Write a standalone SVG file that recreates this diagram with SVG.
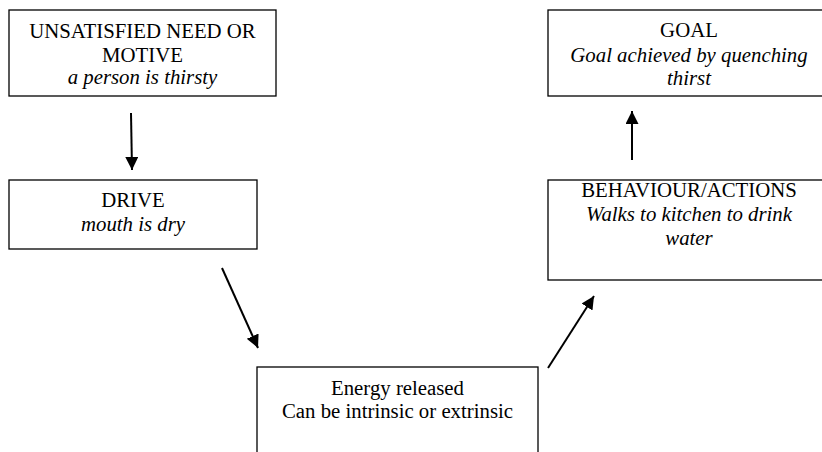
<svg xmlns="http://www.w3.org/2000/svg" width="822" height="452" viewBox="0 0 822 452">
  <style>
    .box { fill: #ffffff; stroke: #000000; stroke-width: 1.3; }
    .t { font-family: "Liberation Serif", "Times New Roman", serif; font-size: 20.8px; fill: #000000; text-anchor: middle; }
    .i { font-style: italic; }
    .arrow { stroke: #000000; stroke-width: 2; fill: none; marker-end: url(#head); }
  </style>
  <defs>
    <marker id="head" markerUnits="userSpaceOnUse" markerWidth="14" markerHeight="14" refX="13" refY="6.5" orient="auto">
      <path d="M0,0 L13,6.5 L0,13 Z" fill="#000000"/>
    </marker>
  </defs>
  <rect width="822" height="452" fill="#ffffff"/>

  <g id="need">
    <rect class="box" x="9" y="10" width="267" height="86"/>
    <text class="t" x="142.5" y="38">UNSATISFIED NEED OR</text>
    <text class="t" x="142.5" y="62">MOTIVE</text>
    <text class="t i" x="142.5" y="84">a person is thirsty</text>
  </g>

  <g id="drive">
    <rect class="box" x="9" y="180" width="248" height="69"/>
    <text class="t" x="133" y="207">DRIVE</text>
    <text class="t i" x="133" y="231">mouth is dry</text>
  </g>

  <g id="energy">
    <rect class="box" x="257" y="367" width="281" height="100"/>
    <text class="t" x="397.5" y="395">Energy released</text>
    <text class="t" x="397.5" y="418">Can be intrinsic or extrinsic</text>
  </g>

  <g id="behaviour">
    <rect class="box" x="548" y="180" width="282" height="100"/>
    <text class="t" x="689" y="197">BEHAVIOUR/ACTIONS</text>
    <text class="t i" x="689" y="221">Walks to kitchen to drink</text>
    <text class="t i" x="689" y="245">water</text>
  </g>

  <g id="goal">
    <rect class="box" x="548" y="10" width="282" height="86"/>
    <text class="t" x="689" y="37">GOAL</text>
    <text class="t i" x="689" y="62">Goal achieved by quenching</text>
    <text class="t i" x="689" y="85">thirst</text>
  </g>

  <g id="connectors">
    <line class="arrow" x1="131" y1="113" x2="132" y2="170"/>
    <line class="arrow" x1="222" y1="268" x2="258" y2="348"/>
    <line class="arrow" x1="548" y1="368" x2="594" y2="296"/>
    <line class="arrow" x1="632" y1="160" x2="632" y2="111"/>
  </g>
</svg>
